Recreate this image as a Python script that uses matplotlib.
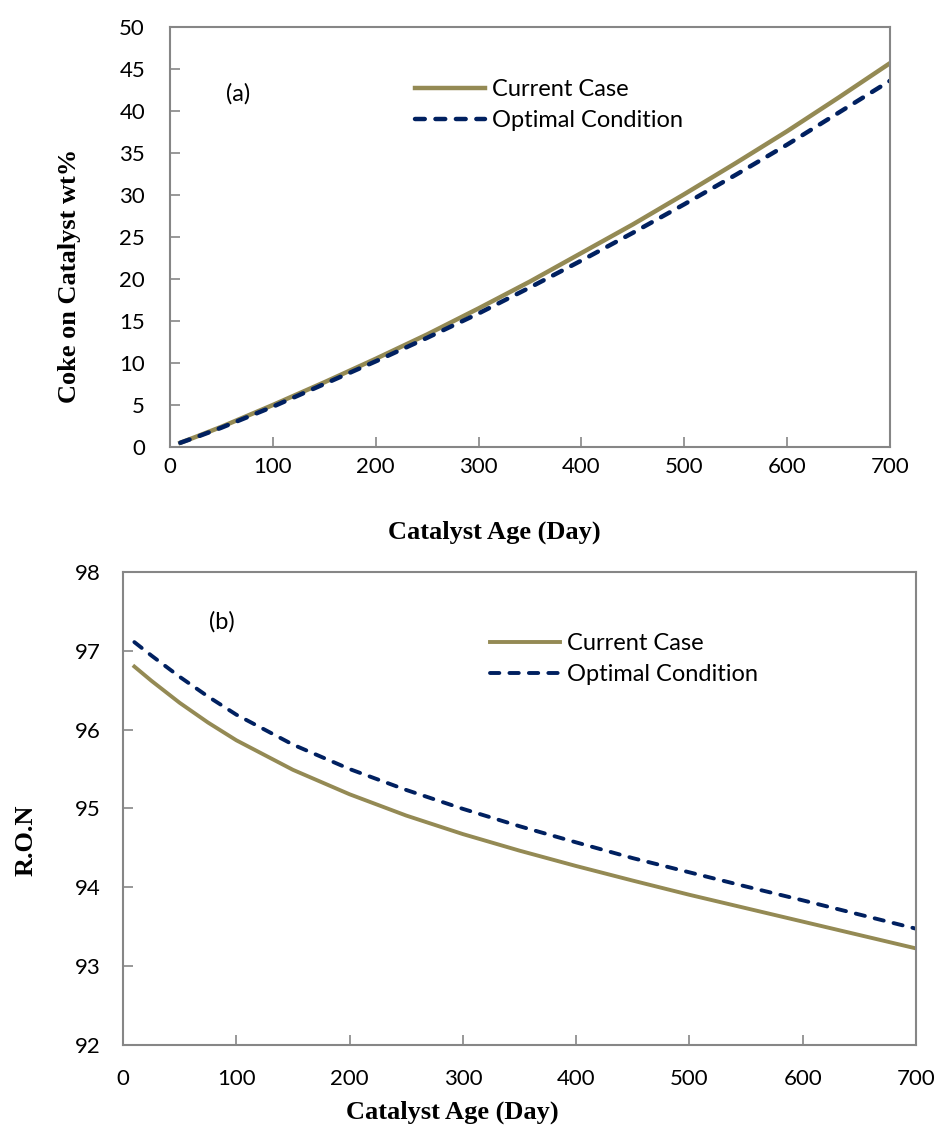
import matplotlib
matplotlib.use("Agg")
import matplotlib.pyplot as plt

# catalyst age (day)
age = [10, 25, 50, 75, 100, 150, 200, 250, 300, 350, 400, 450, 500, 550, 600, 650, 700]

# (a) coke on catalyst wt%
coke_current = [0.5, 1.2, 2.4, 3.7, 5.0, 7.7, 10.5, 13.4, 16.5, 19.7, 23.1, 26.5, 30.1, 33.8, 37.6, 41.6, 45.7]
coke_optimal = [0.5, 1.15, 2.3, 3.55, 4.8, 7.5, 10.2, 13.0, 15.9, 19.0, 22.2, 25.5, 28.9, 32.4, 36.0, 39.8, 43.6]

# (b) research octane number
ron_current = [96.80, 96.62, 96.34, 96.09, 95.865, 95.49, 95.18, 94.91, 94.675, 94.465,
               94.27, 94.085, 93.905, 93.735, 93.565, 93.395, 93.225]
ron_optimal = [97.11, 96.94, 96.67, 96.42, 96.19, 95.81, 95.50, 95.235, 94.995, 94.775,
               94.57, 94.37, 94.19, 94.01, 93.835, 93.655, 93.475]

labels = ["Current Case", "Optimal Condition"]

CUR_COLOR = "#948A54"
OPT_COLOR = "#002060"
SPINE = "#868686"
TICK_FONT = "Lato"
LABEL_FONT = "Liberation Serif"

fig = plt.figure(figsize=(9.4, 11.29), dpi=100)
ax1 = fig.add_axes([0.1809, 0.6041, 0.766, 0.372])
ax2 = fig.add_axes([0.1309, 0.0744, 0.8436, 0.419])


def style_axes(ax, xpad, ypad):
    for side in ["top", "right", "left", "bottom"]:
        ax.spines[side].set_color(SPINE)
        ax.spines[side].set_linewidth(1.5)
    ax.tick_params(direction="in", length=7, width=1.2, color=SPINE, labelsize=16)
    ax.tick_params(axis="x", pad=xpad)
    ax.tick_params(axis="y", pad=ypad)
    for t in ax.get_xticklabels() + ax.get_yticklabels():
        t.set_fontfamily(TICK_FONT)


legend_kw = dict(loc="upper left", frameon=False, prop={"family": TICK_FONT, "size": 17},
                 handlelength=2.95, handletextpad=0.3, labelspacing=0.4,
                 borderpad=0, borderaxespad=0)
label_kw = dict(fontfamily=LABEL_FONT, fontweight="bold", fontsize=19)

# ---------------- panel (a) ----------------
ax1.plot(age, coke_current, color=CUR_COLOR, lw=3.2, label=labels[0])
ax1.plot(age, coke_optimal, color=OPT_COLOR, lw=3.2, ls=(0, (2.2, 2.4)),
         dash_capstyle="round", label=labels[1])
ax1.set_xlim(0, 700)
ax1.set_ylim(0, 50)
ax1.set_xticks(range(0, 701, 100))
ax1.set_yticks(range(0, 51, 5))
style_axes(ax1, 7, 18)
ax1.set_xlabel("Catalyst Age (Day)", **label_kw)
ax1.set_ylabel("Coke on Catalyst wt%", **label_kw)
ax1.xaxis.set_label_coords(0.451, -0.176)
ax1.yaxis.set_label_coords(-0.124, 0.407)
ax1.text(0.094, 0.84, "(a)", transform=ax1.transAxes, fontsize=17,
         fontfamily=TICK_FONT, ha="center", va="center")
ax1.legend(bbox_to_anchor=(0.340, 0.875), **legend_kw)

# ---------------- panel (b) ----------------
ax2.plot(age, ron_current, color=CUR_COLOR, lw=2.8, label=labels[0])
ax2.plot(age, ron_optimal, color=OPT_COLOR, lw=2.8, ls=(0, (2.4, 2.6)),
         dash_capstyle="round", label=labels[1])
ax2.set_xlim(0, 700)
ax2.set_ylim(92, 98)
ax2.set_xticks(range(0, 701, 100))
ax2.set_yticks(range(92, 99, 1))
style_axes(ax2, 17, 16)
ax2.set_xlabel("Catalyst Age (Day)", **label_kw)
ax2.set_ylabel("R.O.N", **label_kw)
ax2.xaxis.set_label_coords(0.415, -0.118)
ax2.yaxis.set_label_coords(-0.108, 0.433)
ax2.text(0.124, 0.895, "(b)", transform=ax2.transAxes, fontsize=17,
         fontfamily=TICK_FONT, ha="center", va="center")
ax2.legend(bbox_to_anchor=(0.463, 0.87), **legend_kw)

fig.savefig("out.png", dpi=100)
